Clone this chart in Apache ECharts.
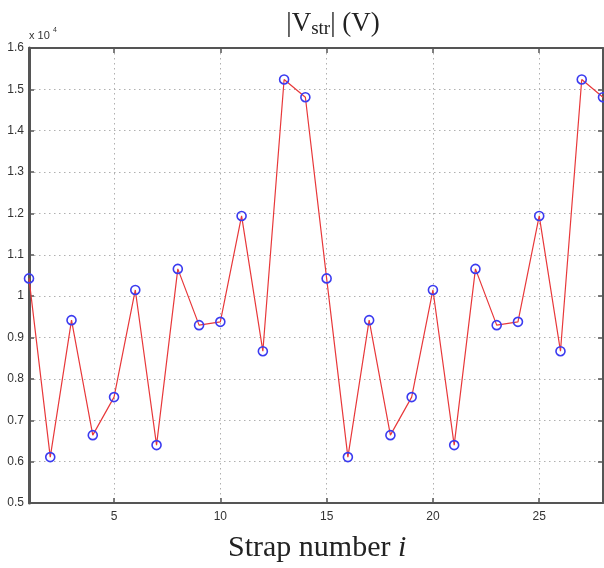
<!DOCTYPE html>
<html>
<head>
<meta charset="utf-8">
<script src="https://cdn.jsdelivr.net/npm/echarts@6/dist/echarts.min.js"></script>
<style>
html,body{margin:0;padding:0;background:#fff;}
#c{width:604px;height:568px;}
</style>
</head>
<body>
<div id="c"></div>
<script>
// Strap numbers and |V_str| values (in units of 10^4 V)
const strapNumbers = [1,2,3,4,5,6,7,8,9,10,11,12,13,14,15,16,17,18,19,20,21,22,23,24,25,26,27,28];
const vStr = [1.043,0.611,0.942,0.664,0.756,1.015,0.640,1.066,0.930,0.938,1.194,0.867,1.524,1.481,
              1.043,0.611,0.942,0.664,0.756,1.015,0.640,1.066,0.930,0.938,1.194,0.867,1.524,1.481];
const xTickValues = [5,10,15,20,25];
const yMin = 0.5, yMax = 1.6, yStep = 0.1;
const xMin = 1, xMax = 28;

const chart = echarts.init(document.getElementById('c'), null, {renderer:'canvas'});
const axisColor = '#555';
const gridLine = {show:true, lineStyle:{color:'#b0b0b0', type:[1.5,3.5], width:1}};
const option = {
  animation:false,
  backgroundColor:'#fff',
  title:{
    text:'|V{s|str}| (V)',
    left:328, top:3, textAlign:'center',
    textStyle:{
      fontFamily:'Liberation Serif', fontSize:27, fontWeight:'normal', color:'#222',
      rich:{ s:{fontFamily:'Liberation Serif', fontSize:19, color:'#222', verticalAlign:'bottom', padding:[12,0,0,0]} }
    }
  },
  graphic:[
    {type:'text', left:29, top:30, style:{text:'x 10', font:'11px Liberation Sans', fill:'#333'}},
    {type:'text', left:53, top:27, style:{text:'4', font:'7px Liberation Sans', fill:'#333'}},
    {type:'text', left:228, top:533, style:{
      text:'{a|Strap number }{b|i}',
      rich:{a:{font:'30px Liberation Serif', fill:'#222'}, b:{font:'italic 30px Liberation Serif', fill:'#222'}}
    }}
  ],
  grid:{left:29, right:1, top:48, bottom:65, containLabel:false},
  xAxis:[
    {type:'value', min:xMin, max:xMax, position:'bottom',
     axisLine:{show:true, onZero:false, lineStyle:{color:axisColor, width:2}},
     axisTick:{show:true, inside:true, length:5, customValues:xTickValues, lineStyle:{color:axisColor, width:1.5}},
     axisLabel:{show:true, customValues:xTickValues, margin:8, fontFamily:'Liberation Sans', fontSize:12, color:'#333'},
     splitLine:gridLine},
    {type:'value', min:xMin, max:xMax, position:'top',
     axisLine:{show:true, onZero:false, lineStyle:{color:axisColor, width:2}},
     axisTick:{show:true, inside:true, length:5, customValues:xTickValues, lineStyle:{color:axisColor, width:1.5}},
     axisLabel:{show:false}, splitLine:{show:false}}
  ],
  yAxis:[
    {type:'value', min:yMin, max:yMax, interval:yStep, position:'left',
     axisLine:{show:true, onZero:false, lineStyle:{color:axisColor, width:3}},
     axisTick:{show:true, inside:true, length:5, lineStyle:{color:axisColor, width:1.5}},
     axisLabel:{show:true, margin:5, fontFamily:'Liberation Sans', fontSize:12, color:'#333'},
     splitLine:gridLine},
    {type:'value', min:yMin, max:yMax, interval:yStep, position:'right',
     axisLine:{show:true, onZero:false, lineStyle:{color:axisColor, width:2}},
     axisTick:{show:true, inside:true, length:5, lineStyle:{color:axisColor, width:1.5}},
     axisLabel:{show:false}, splitLine:{show:false}}
  ],
  series:[{
    type:'line',
    data:strapNumbers.map((x,i)=>[x,vStr[i]]),
    xAxisIndex:0, yAxisIndex:0,
    lineStyle:{color:'#e8383a', width:1.2},
    symbol:'circle', symbolSize:9,
    itemStyle:{color:'rgba(255,255,255,0)', borderColor:'#3b3bf0', borderWidth:1.6},
    z:5
  }]
};
chart.setOption(option);
</script>
</body>
</html>
